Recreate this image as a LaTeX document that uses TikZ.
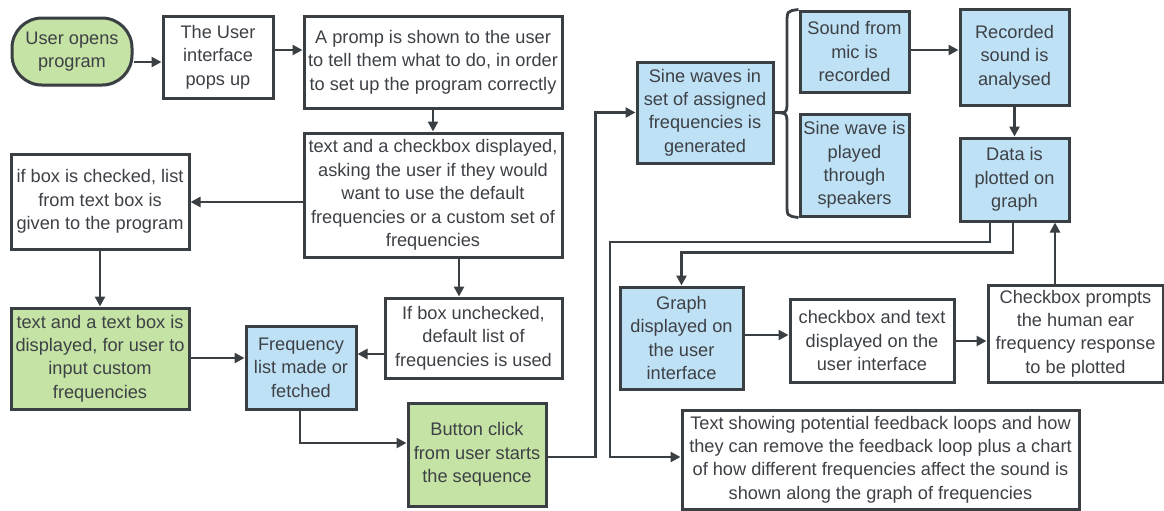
\documentclass[tikz,border=0pt]{standalone}
\usepackage{fontspec}
\setmainfont{Liberation Sans}
\usetikzlibrary{arrows.meta,shadows}
\definecolor{edgegray}{HTML}{3A3F44}
\definecolor{textgray}{HTML}{3D4146}
\definecolor{boxgreen}{HTML}{C5E3A4}
\definecolor{boxblue}{HTML}{BFE1F5}

\begin{document}
\begin{tikzpicture}[x=0.5pt, y=-0.5pt,
    box/.style={rectangle, draw=edgegray, line width=1.5pt, fill=white, text=textgray, align=center, inner sep=1pt,
        font=\fontsize{9.1}{11.7}\selectfont, drop shadow={opacity=0.12, shadow xshift=0.8pt, shadow yshift=-1.2pt}},
    bluebox/.style={box, fill=boxblue},
    greenbox/.style={box, fill=boxgreen},
    link/.style={draw=edgegray, line width=1.4pt},
    arr/.style={link, -{Triangle[length=5pt, width=5pt]}}]
        \useasboundingbox (0,0) rectangle (1164,510);

        % Nodes
        \node[greenbox, rounded corners=15pt, minimum width=60pt, minimum height=33.5pt] at (72, 51.5)  (start)    {User opens\\program};
        \node[box, minimum width=55pt, minimum height=41pt] at (218, 57)  (ui)    {The User\\interface\\pops up};
        \node[box, minimum width=129pt, minimum height=46pt] at (433, 62)  (prompt)    {A promp is shown to the user\\to tell them what to do, in order\\to set up the program correctly};
        \node[box, minimum width=129pt, minimum height=62pt] at (433, 195)  (check)    {text and a checkbox displayed,\\asking the user if they would\\want to use the default\\frequencies or a custom set of\\frequencies};
        \node[box, minimum width=89pt, minimum height=47.5pt] at (100, 201.5)  (ifcheck)    {if box is checked, list\\from text box is\\given to the program};
        \node[greenbox, minimum width=89pt, minimum height=50.5pt] at (100, 358.5)  (txtbox)    {text and a text box is\\displayed, for user to\\input custom\\frequencies};
        \node[bluebox, minimum width=55pt, minimum height=41.5pt] at (301, 367.5)  (freq)    {Frequency\\list made or\\fetched};
        \node[box, minimum width=88.5pt, minimum height=40pt] at (473.5, 338)  (uncheck)    {If box unchecked,\\default list of\\frequencies is used};
        \node[greenbox, minimum width=69pt, minimum height=51.5pt] at (477, 454.5)  (button)    {Button click\\from user starts\\the sequence};

        \node[bluebox, minimum width=68pt, minimum height=50.5pt] at (705, 112.5)  (sine)    {Sine waves in\\set of assigned\\frequencies is\\generated};
        \node[bluebox, minimum width=54.5pt, minimum height=40.5pt] at (854.5, 51.5)  (mic)    {Sound from\\mic is\\recorded};
        \node[bluebox, minimum width=54.5pt, minimum height=51pt] at (854.5, 165)  (play)    {Sine wave is\\played\\through\\speakers};
        \node[bluebox, minimum width=54.5pt, minimum height=48pt] at (1014.5, 57)  (rec)    {Recorded\\sound is\\analysed};
        \node[bluebox, minimum width=54.5pt, minimum height=41.5pt] at (1014.5, 179.5)  (plot)    {Data is\\plotted on\\graph};
        \node[bluebox, minimum width=61.5pt, minimum height=51pt] at (681.5, 338)  (graph)    {Graph\\displayed on\\the user\\interface};
        \node[box, minimum width=82pt, minimum height=41.5pt] at (872, 340.5)  (cbtext)    {checkbox and text\\displayed on the\\user interface};
        \node[box, minimum width=87.5pt, minimum height=48.5pt] at (1075.5, 333.5)  (prompts)    {Checkbox prompts\\the human ear\\frequency response\\to be plotted};
        \node[box, minimum width=198.5pt, minimum height=49.5pt] at (880.5, 459.5)  (feedback)    {Text showing potential feedback loops and how\\they can remove the feedback loop plus a chart\\of how different frequencies affect the sound is\\shown along the graph of frequencies};

        % Setup side
        \draw[arr]  (start.east |- 0,62) -- (ui.west |- 0,62);
        \draw[arr]  (ui.east |- 0,50) -- (prompt.west |- 0,50);
        \draw[arr]  (prompt) -- (check);
        \draw[arr]  (check.west |- 0,202) -- (ifcheck.east |- 0,202);
        \draw[arr]  (ifcheck) -- (txtbox);
        \draw[arr]  (check.south -| 459,0) -- (uncheck.north -| 459,0);
        \draw[arr]  (txtbox.east |- 0,358) -- (freq.west |- 0,358);
        \draw[arr]  (uncheck.west |- 0,354) -- (freq.east |- 0,354);
        \draw[arr]  (freq.south -| 300,0) |- (button.west |- 0,443);
        \draw[arr]  (button.east |- 0,457) -| ([xshift=-20pt]sine.west) -- (sine.west);

        % Sound side
        \draw[link] (mic.north west) .. controls (787,11) .. (787,24) -- (787,101) .. controls (787,113) .. (sine.east)
                    .. controls (787,113) .. (787,125) -- (787,204) .. controls (787,216) .. (play.south west);
        \draw[arr]  (mic.east |- 0,50) -- (rec.west |- 0,50);
        \draw[arr]  (rec) -- (plot);
        \draw[arr]  (plot.south -| 990,0) |- (610,242) |- (feedback.west |- 0,457);
        \draw[arr]  (plot.south -| 1013,0) |- ([yshift=16.5pt]graph.north) -- (graph.north);
        \draw[arr]  (graph.east |- 0,335) -- (cbtext.west |- 0,335);
        \draw[arr]  (cbtext.east |- 0,341) -- (prompts.west |- 0,341);
        \draw[arr]  (prompts.north -| 1055,0) -- (plot.south -| 1055,0);
    \end{tikzpicture}
\end{document}
